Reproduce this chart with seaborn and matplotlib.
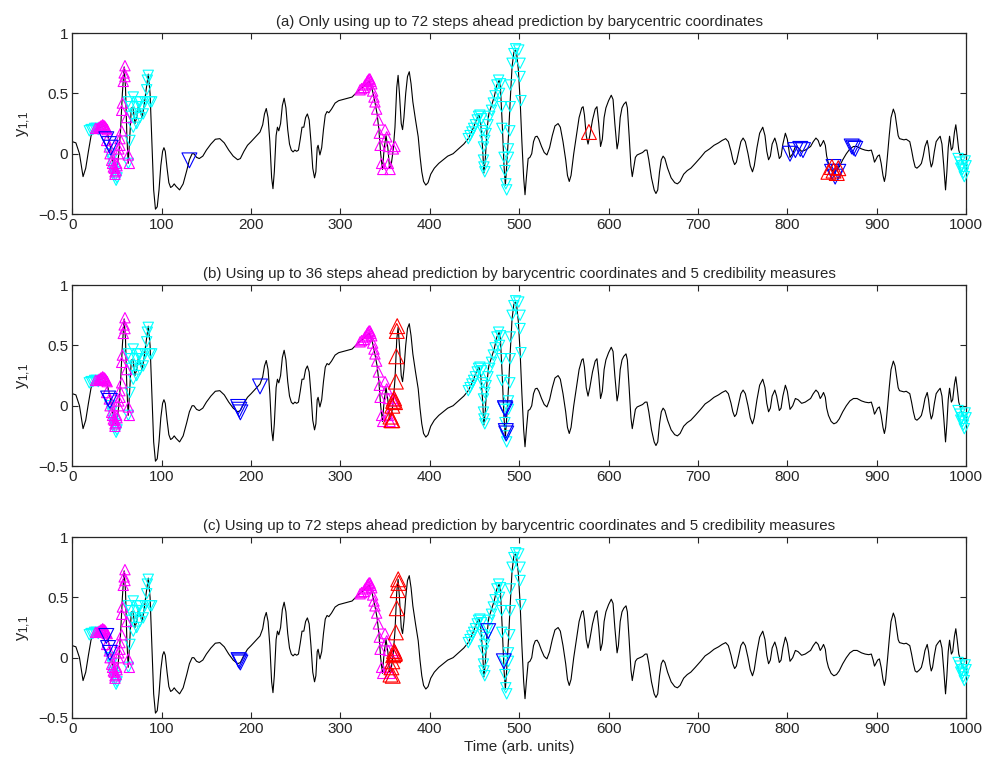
import numpy as np
import pandas as pd
import seaborn as sns
import matplotlib
matplotlib.use("Agg")
import matplotlib.pyplot as plt

sns.set_style("ticks")
plt.rcParams["font.family"] = ["Liberation Sans", "DejaVu Sans"]
plt.rcParams["mathtext.default"] = "regular"

# time series y_{1,1} (t, y)
t_curve = [0, 4, 8, 12, 15, 18, 21, 24, 28, 32, 36, 39, 42, 45, 48, 50, 52, 54, 56, 58,
           59.5, 61, 62.5, 64, 66, 68, 70, 72, 74, 76, 78, 80, 82, 85, 87, 89, 91, 93, 95, 97,
           99, 101, 102.5, 104, 106, 108, 110, 112, 114, 116, 120, 124, 128, 131, 134, 136, 139, 142, 146, 150,
           155, 160, 165, 170, 175, 180, 185, 188, 192, 196, 200, 205, 210, 213, 215, 217, 219, 221, 223, 224.5,
           226, 228, 229.5, 231, 233, 235, 237, 239, 241, 243, 245, 247, 249, 251, 253, 255, 257, 259, 261, 263,
           265, 267, 269, 271, 272.5, 274, 275, 277, 279, 281, 283, 285, 287, 290, 294, 298, 303, 308, 313, 317,
           321, 325, 329, 332, 335, 338, 341, 343, 345, 347, 349, 351, 353, 355, 357, 359, 361, 363, 364.5, 366,
           368, 369.5, 371, 373, 375, 377, 379, 381, 384, 387, 389, 391, 393, 395.5, 398, 401, 405, 410, 415, 420,
           426, 432, 438, 443, 446, 449, 452, 455, 457, 459, 460.5, 462, 464, 466, 469, 472, 475, 477.5, 479, 481,
           483, 484.5, 486, 488, 490, 492, 494, 495.5, 497, 499, 501, 503, 505, 506.5, 508, 510, 512, 514, 516, 518,
           520, 522, 525, 528, 531, 534, 537, 540, 543.5, 546, 549, 552, 554, 556, 558, 561, 564, 567, 570, 571.5,
           573, 575, 577, 579, 582, 585, 587, 589, 591, 593, 595, 597, 600, 603, 605, 607, 609.5, 611, 613, 615,
           617, 619.5, 621, 623, 625, 626.5, 628, 630, 632, 635, 638, 641, 643, 645, 648, 651, 653, 655, 657, 659,
           661, 663, 666, 670, 674, 677, 680, 684, 688, 692, 697, 703, 708, 713, 718, 723, 727, 731, 734, 737,
           739, 741, 743, 746, 748, 750.5, 753, 756, 758.5, 761, 763, 766, 769, 772.5, 775, 777, 779, 781, 783, 786,
           788, 791, 793, 795, 797.8, 800, 803, 806, 809, 812, 816, 820, 824, 826, 829, 832, 834.5, 836.8, 838.5, 840.5,
           842.5, 844, 846, 849, 852, 855, 858, 862, 866, 870, 874, 878, 883, 887, 891, 894, 896, 897.5, 899, 901,
           903, 905, 907, 908.6, 910, 912, 914, 916, 918.6, 920.5, 922, 924, 925.5, 928, 930.5, 933, 935, 937, 939, 941,
           943, 945, 948, 950, 952, 954, 956.5, 958, 959.5, 961, 962.5, 964.5, 966.5, 968.8, 971, 973, 975, 977, 978.5, 980,
           981.5, 983.5, 985, 987, 988.5, 990, 991.8, 993, 995, 997, 1000]
y_curve = [0.10, 0.09, 0.00, -0.19, -0.12, 0.02, 0.15, 0.20, 0.21, 0.22, 0.23, 0.18, 0.08, -0.05, -0.15, -0.12, 0.00, 0.20, 0.50, 0.72,
           0.55, 0.15, -0.08, 0.10, 0.38, 0.38, 0.25, 0.30, 0.40, 0.35, 0.30, 0.38, 0.50, 0.66, 0.50, 0.10, -0.30, -0.46, -0.44, -0.30,
           -0.10, 0.02, 0.05, 0.02, -0.12, -0.24, -0.28, -0.27, -0.25, -0.27, -0.30, -0.25, -0.14, -0.05, 0.00, 0.00, -0.03, -0.04, -0.02, 0.03,
           0.08, 0.12, 0.125, 0.09, 0.03, -0.02, -0.05, -0.04, 0.02, 0.07, 0.10, 0.14, 0.18, 0.24, 0.33, 0.375, 0.30, 0.10, -0.20, -0.29,
           -0.15, 0.15, 0.22, 0.19, 0.25, 0.40, 0.46, 0.38, 0.20, 0.08, 0.03, 0.015, 0.03, 0.02, 0.03, 0.12, 0.22, 0.22, 0.30, 0.33,
           0.28, 0.10, -0.12, -0.20, -0.15, 0.05, 0.07, -0.01, 0.05, 0.20, 0.32, 0.35, 0.34, 0.37, 0.42, 0.44, 0.45, 0.46, 0.47, 0.50,
           0.53, 0.55, 0.58, 0.60, 0.55, 0.45, 0.33, 0.20, 0.00, -0.13, 0.05, 0.15, 0.05, -0.12, -0.08, 0.03, 0.22, 0.55, 0.65, 0.50,
           0.25, 0.20, 0.30, 0.50, 0.64, 0.68, 0.58, 0.43, 0.28, 0.14, -0.02, -0.15, -0.23, -0.26, -0.24, -0.17, -0.12, -0.08, -0.05, -0.02,
           0.00, 0.04, 0.08, 0.125, 0.17, 0.22, 0.28, 0.32, 0.25, 0.05, -0.16, -0.05, 0.20, 0.33, 0.40, 0.47, 0.57, 0.61, 0.55, 0.25,
           -0.10, -0.26, -0.10, 0.15, 0.45, 0.72, 0.84, 0.86, 0.84, 0.70, 0.45, 0.10, -0.20, -0.34, -0.20, -0.04, -0.03, 0.00, 0.10, 0.14,
           0.145, 0.12, 0.06, 0.01, -0.01, 0.05, 0.15, 0.23, 0.25, 0.22, 0.10, -0.05, -0.18, -0.23, -0.18, 0.00, 0.15, 0.30, 0.38, 0.39,
           0.32, 0.15, 0.08, 0.15, 0.28, 0.37, 0.39, 0.25, 0.06, 0.12, 0.30, 0.38, 0.44, 0.485, 0.45, 0.25, 0.04, 0.10, 0.30, 0.38,
           0.41, 0.43, 0.38, 0.15, -0.10, -0.19, -0.12, -0.03, -0.01, 0.00, 0.01, 0.03, 0.03, -0.05, -0.20, -0.30, -0.33, -0.30, -0.15, -0.05,
           -0.02, -0.04, -0.12, -0.20, -0.24, -0.25, -0.23, -0.17, -0.14, -0.12, -0.08, -0.03, 0.015, 0.04, 0.07, 0.09, 0.11, 0.125, 0.10, 0.02,
           -0.05, -0.09, -0.07, 0.03, 0.10, 0.13, 0.10, 0.00, -0.10, -0.15, -0.10, 0.05, 0.17, 0.22, 0.15, 0.02, -0.05, -0.02, 0.08, 0.13,
           0.08, -0.04, -0.02, 0.08, 0.17, 0.12, -0.03, 0.00, 0.06, 0.05, 0.02, 0.03, 0.05, 0.06, 0.10, 0.13, 0.11, 0.06, 0.08, 0.11,
           0.07, -0.02, -0.08, -0.13, -0.15, -0.14, -0.11, -0.05, 0.00, 0.04, 0.06, 0.06, 0.04, 0.03, 0.025, 0.03, -0.02, -0.07, -0.05, -0.02,
           -0.01, -0.08, -0.18, -0.23, -0.18, -0.02, 0.15, 0.30, 0.37, 0.33, 0.25, 0.15, 0.125, 0.12, 0.115, 0.12, 0.11, 0.10, 0.03, -0.05,
           -0.11, -0.12, -0.10, -0.08, -0.02, 0.06, 0.11, 0.05, -0.05, -0.11, -0.08, 0.02, 0.10, 0.125, 0.145, 0.08, -0.10, -0.30, -0.15, 0.05,
           0.145, 0.03, 0.05, 0.18, 0.24, 0.15, 0.03, 0.00, -0.05, -0.08, -0.10]

# magenta up-triangles (same in all three panels)
mag_t = [26, 28, 30, 31, 32, 33, 34, 35, 36, 37, 38, 39,
         38.4, 41.4, 42.2, 44, 45, 45.9, 47, 47.7, 47.7, 49, 49.6, 50, 51.5, 52, 53.3, 53.3, 55.2, 55.2,
         56, 57, 58, 58.9, 58.9, 60.8, 62.7, 63.8,
         322, 323.7, 326, 327.4, 329, 330, 331, 332, 333, 334, 335, 336, 337.5, 338.6, 340.5, 342.4,
         343.5, 344.3, 346, 347.3, 349.9, 351.8, 353.6, 353.6, 355.5, 359.2, 361]
mag_y = [0.21, 0.21, 0.22, 0.22, 0.23, 0.23, 0.24, 0.23, 0.23, 0.22, 0.21, 0.20,
         0.11, 0.056, 0.00, -0.054, -0.08, -0.11, -0.12, -0.15, -0.17, -0.14, -0.08, -0.10, 0.00, 0.04, 0.07, 0.125, 0.19, 0.36,
         0.42, 0.60, 0.67, 0.64, 0.73, 0.30, -0.01, -0.08,
         0.53, 0.54, 0.55, 0.57, 0.58, 0.60, 0.61, 0.62, 0.62, 0.60, 0.58, 0.52, 0.47, 0.43, 0.37, 0.28,
         0.17, 0.07, -0.08, -0.13, 0.20, 0.14, 0.06, -0.08, -0.13, 0.04, 0.06]

# cyan down-triangles (same in all three panels)
cyan_t = [19, 21, 23, 25, 27, 29,
          42, 44, 46, 47, 48, 49, 50,
          62.7, 64.5, 66.4, 68.2, 70.1, 72, 73.8, 75.7, 77.6, 79.4, 81.3, 83.2, 83.9, 85, 86.9, 88.8,
          64.5, 62.7, 68.2, 72, 75.7,
          443, 445, 447, 449, 451, 453, 454.5, 456, 458, 459, 460, 460, 460.5, 461.5,
          461.5, 463, 465, 467, 469, 471, 473, 475, 477, 479, 478, 480.5, 480.5, 483, 484, 485, 486,
          490, 490, 492, 494, 496, 499.5, 501, 501, 502, 489.5, 488, 488,
          991, 993, 994, 995, 996, 997, 998, 999, 1000]
cyan_y = [0.19, 0.20, 0.20, 0.21, 0.21, 0.20,
          0.00, -0.05, -0.12, -0.15, -0.18, -0.22, -0.20,
          0.43, 0.39, 0.31, 0.22, 0.33, 0.39, 0.43, 0.43, 0.39, 0.33, 0.43, 0.53, 0.61, 0.65, 0.43, 0.43,
          0.11, -0.08, 0.47, 0.25, 0.30,
          0.125, 0.15, 0.18, 0.21, 0.24, 0.28, 0.31, 0.32, 0.29, 0.19, 0.056, -0.053, -0.11, -0.15,
          0.11, 0.167, 0.24, 0.31, 0.36, 0.42, 0.48, 0.57, 0.61, 0.58, 0.50, 0.39, 0.21, -0.03, -0.14, -0.25, -0.30,
          0.39, 0.57, 0.75, 0.83, 0.87, 0.86, 0.75, 0.64, 0.44, 0.19, 0.04, -0.03,
          -0.04, -0.07, -0.12, -0.10, -0.13, -0.16, -0.19, -0.06, -0.10]

# panel specific markers
blue_a_t = [38, 41, 43, 131, 803, 809, 814.5, 817.5, 850, 853.5, 857, 851.7, 872, 874, 876]
blue_a_y = [0.12, 0.08, 0.05, -0.055, 0.00, 0.03, 0.04, 0.03, -0.15, -0.19, -0.15, -0.11, 0.06, 0.05, 0.04]
red_a_t = [578, 846, 849.8, 851.7, 855.3, 857]
red_a_y = [0.18, -0.15, -0.11, -0.14, -0.16, -0.12]

blue_b_t = [40, 42, 185.5, 186.8, 188, 210, 484, 484.5, 485, 485.5]
blue_b_y = [0.06, 0.04, -0.01, -0.033, -0.055, 0.16, -0.02, -0.03, -0.21, -0.23]
red_b_t = [356, 357, 358, 358, 359, 360, 361, 362, 362.5, 363, 363.5]
red_b_y = [-0.09, -0.12, -0.12, 0.00, 0.04, 0.06, 0.03, 0.20, 0.41, 0.62, 0.66]

blue_c_t = [38, 40, 42, 186, 187, 188, 465.3, 482.8]
blue_c_y = [0.18, 0.08, 0.04, -0.02, -0.03, -0.04, 0.22, -0.03]
red_c_t = [356, 357, 358, 359, 360, 361, 362, 363, 364, 364.6, 365, 358.5, 360.5]
red_c_y = [-0.14, -0.08, -0.03, 0.02, 0.055, 0.04, 0.21, 0.41, 0.56, 0.65, 0.62, -0.15, 0.03]

titles = ["(a) Only using up to 72 steps ahead prediction by barycentric coordinates",
          "(b) Using up to 36 steps ahead prediction by barycentric coordinates and 5 credibility measures",
          "(c) Using up to 72 steps ahead prediction by barycentric coordinates and 5 credibility measures"]

panels = [(blue_a_t, blue_a_y, red_a_t, red_a_y),
          (blue_b_t, blue_b_y, red_b_t, red_b_y),
          (blue_c_t, blue_c_y, red_c_t, red_c_y)]

fig = plt.figure(figsize=(9.84, 7.6), dpi=100)
bottoms = [0.7184, 0.3868, 0.0553]


def marks(ax, t, y, marker, color, s):
    sns.scatterplot(x=t, y=y, ax=ax, marker=marker, s=s, color=color,
                    facecolor="none", edgecolor=color, linewidth=0.8,
                    clip_on=False, zorder=3)


for i in range(3):
    ax = fig.add_axes([0.0735, bottoms[i], 0.9083, 0.238])
    sns.lineplot(x=t_curve, y=y_curve, ax=ax, color="k", linewidth=0.8)
    marks(ax, cyan_t, cyan_y, "v", "#00ffff", 55)
    marks(ax, mag_t, mag_y, "^", "#ff00ff", 55)
    bt, by, rt, ry = panels[i]
    marks(ax, bt, by, "v", "#0000ff", 115)
    marks(ax, rt, ry, "^", "#ff0000", 115)

    ax.set_xlim(0, 1000)
    ax.set_ylim(-0.5, 1)
    ax.set_xticks(range(0, 1001, 100))
    ax.set_yticks([-0.5, 0, 0.5, 1])
    ax.set_yticklabels(["\u22120.5", "0", "0.5", "1"])
    ax.tick_params(direction="in", top=True, right=True, length=4, width=0.8,
                   labelsize=11, pad=3)
    for sp in ax.spines.values():
        sp.set_linewidth(0.9)
    ax.set_title(titles[i], fontsize=10.8, pad=5)
    ax.set_ylabel("$y_{1{,}1}$", fontsize=12, labelpad=4)
    if i == 2:
        ax.set_xlabel("Time (arb. units)", fontsize=11, labelpad=3)

fig.savefig("out.png", dpi=100)
